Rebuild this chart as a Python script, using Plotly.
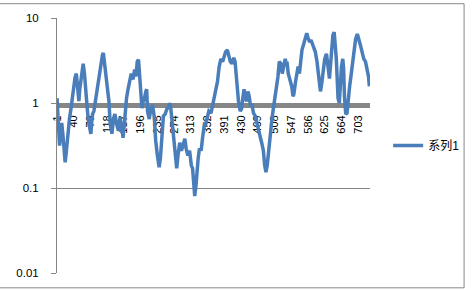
import plotly.graph_objects as go

point_index = [
    1, 3, 7, 9, 12, 15, 18, 20, 23, 25, 27, 30, 34, 37, 40, 43, 46, 48, 50, 52,
    54, 57, 60, 62, 65, 67, 69, 72, 75, 78, 80, 82, 84, 87, 90, 93, 96, 99, 102, 104,
    107, 109, 111, 113, 115, 117, 120, 122, 125, 129, 133, 136, 140, 144, 148, 151, 155, 159, 163, 167,
    171, 174, 178, 182, 185, 188, 191, 193, 197, 199, 202, 205, 208, 210, 212, 216, 220, 224, 228, 231,
    235, 239, 242, 245, 249, 253, 257, 261, 265, 268, 271, 275, 280, 283, 287, 291, 295, 299, 302, 306,
    310, 314, 317, 319, 322, 325, 327, 330, 333, 337, 340, 344, 348, 351, 355, 360, 365, 368, 371, 375,
    379, 383, 387, 390, 394, 398, 402, 405, 409, 413, 416, 418, 421, 424, 428, 431, 434, 437, 440, 443,
    446, 449, 452, 455, 459, 463, 467, 471, 474, 478, 482, 485, 488, 491, 494, 499, 502, 506, 510, 513,
    516, 519, 523, 526, 529, 533, 535, 537, 540, 544, 548, 551, 553, 557, 560, 563, 566, 569, 572, 576,
    580, 583, 586, 590, 593, 597, 600, 603, 607, 610, 613, 615, 618, 621, 625, 629, 632, 636, 640, 644,
    647, 650, 652, 654, 656, 659, 661, 664, 667, 669, 671, 674, 677, 680, 683, 686, 690, 693, 697, 701,
    705, 708, 712, 716, 720, 724, 727, 729,
]

series1 = [
    1.14, 0.648, 0.315, 0.412, 0.582, 0.41, 0.275, 0.200, 0.275, 0.360, 0.496, 0.648, 0.894, 1.20, 1.61, 1.99, 2.22, 1.79, 1.37, 1.05,
    1.45, 1.99, 2.61, 2.90, 2.22, 1.57, 1.14, 0.803, 0.582, 0.470, 0.434, 0.614, 0.741, 0.803, 1.02, 1.37, 1.79, 2.22, 2.68, 3.23,
    3.69, 3.89, 3.23, 2.90, 2.34, 1.79, 1.37, 1.05, 0.567, 0.434, 0.666, 0.741, 0.567, 0.470, 0.684, 0.538, 0.390, 0.648, 1.14, 1.49,
    1.94, 2.22, 1.89, 2.47, 2.05, 3.06, 3.23, 2.34, 1.37, 0.870, 1.05, 1.14, 1.37, 1.45, 0.803, 0.648, 0.870, 0.943, 0.666, 0.360,
    0.241, 0.175, 0.223, 0.412, 0.703, 0.741, 0.847, 0.894, 0.995, 0.703, 0.470, 0.275, 0.170, 0.241, 0.341, 0.275, 0.315, 0.380, 0.291, 0.241,
    0.275, 0.185, 0.170, 0.124, 0.0805, 0.108, 0.161, 0.223, 0.291, 0.275, 0.380, 0.538, 0.582, 0.666, 0.803, 0.761, 0.995, 1.11, 1.45, 1.79,
    2.68, 3.31, 3.06, 3.50, 4.00, 4.22, 3.40, 3.06, 2.90, 3.40, 3.06, 2.22, 1.57, 1.05, 0.803, 0.847, 1.14, 1.45, 1.14, 1.05,
    1.37, 1.20, 0.918, 0.968, 0.761, 0.703, 0.582, 0.496, 0.412, 0.341, 0.275, 0.185, 0.153, 0.185, 0.275, 0.446, 0.648, 0.918, 1.20, 1.57,
    2.05, 3.06, 2.90, 2.22, 2.68, 3.31, 2.90, 3.06, 2.22, 1.89, 1.57, 1.20, 1.27, 1.79, 2.22, 2.68, 2.22, 3.50, 4.22, 4.95,
    5.81, 6.64, 5.81, 5.22, 5.51, 4.82, 4.57, 4.00, 3.06, 2.05, 1.45, 1.37, 1.70, 2.47, 3.31, 3.79, 2.68, 1.94, 3.50, 6.30,
    6.82, 4.95, 3.31, 1.94, 1.14, 0.995, 1.79, 2.68, 3.31, 2.54, 1.20, 0.741, 0.761, 1.20, 1.57, 2.05, 2.90, 4.22, 5.66, 6.47,
    5.66, 4.82, 4.00, 3.31, 3.06, 2.47, 2.05, 1.57,
]

x_tick_labels = [1, 40, 79, 118, 157, 196, 235, 274, 313, 352, 391, 430, 469, 508, 547, 586, 625, 664, 703]
y_tick_values = [0.01, 0.1, 1, 10]
y_tick_labels = ["0.01", "0.1", "1", "10"]
series_name = "系列1"
n_categories = 730

GRID = "#868686"
LINE = "#4a7ebb"
FONT = "Liberation Sans, Arial, Noto Sans CJK SC"

fig = go.Figure()
fig.add_trace(go.Scatter(
    x=point_index, y=series1, mode="lines", name=series_name,
    line=dict(color=LINE, width=3.5),
))

fig.update_layout(
    width=476, height=291,
    margin=dict(l=57, r=98, t=16, b=17),
    paper_bgcolor="white", plot_bgcolor="white",
    font=dict(family=FONT, size=11, color="black"),
    showlegend=True,
    legend=dict(x=1.058, y=0.5, xanchor="left", yanchor="middle",
                font=dict(size=12, family=FONT), bgcolor="rgba(0,0,0,0)",
                itemwidth=30),
    xaxis=dict(
        range=[1, n_categories + 0.5],
        tickmode="array", tickvals=x_tick_labels, ticktext=[str(v) for v in x_tick_labels],
        tickangle=-90, ticks="", showgrid=False, zeroline=False,
        showline=True, linecolor=GRID, linewidth=5,
        anchor="free", position=0.659, layer="below traces",
        tickfont=dict(size=11), ticklabelstandoff=3,
    ),
    yaxis=dict(
        type="log", range=[-2, 1],
        tickmode="array", tickvals=y_tick_values, ticktext=y_tick_labels,
        showgrid=True, gridcolor=GRID, gridwidth=1,
        showline=True, linecolor=GRID, linewidth=1,
        ticks="outside", ticklen=5, tickcolor=GRID,
        zeroline=False, tickfont=dict(size=11.5), ticklabelstandoff=10,
    ),
    shapes=[dict(type="rect", xref="paper", yref="paper",
                 x0=-0.19, x1=1.3006, y0=-0.0581, y1=1.056,
                 line=dict(color="#888888", width=1), fillcolor="rgba(0,0,0,0)")],
)

fig.write_html("out.html")
